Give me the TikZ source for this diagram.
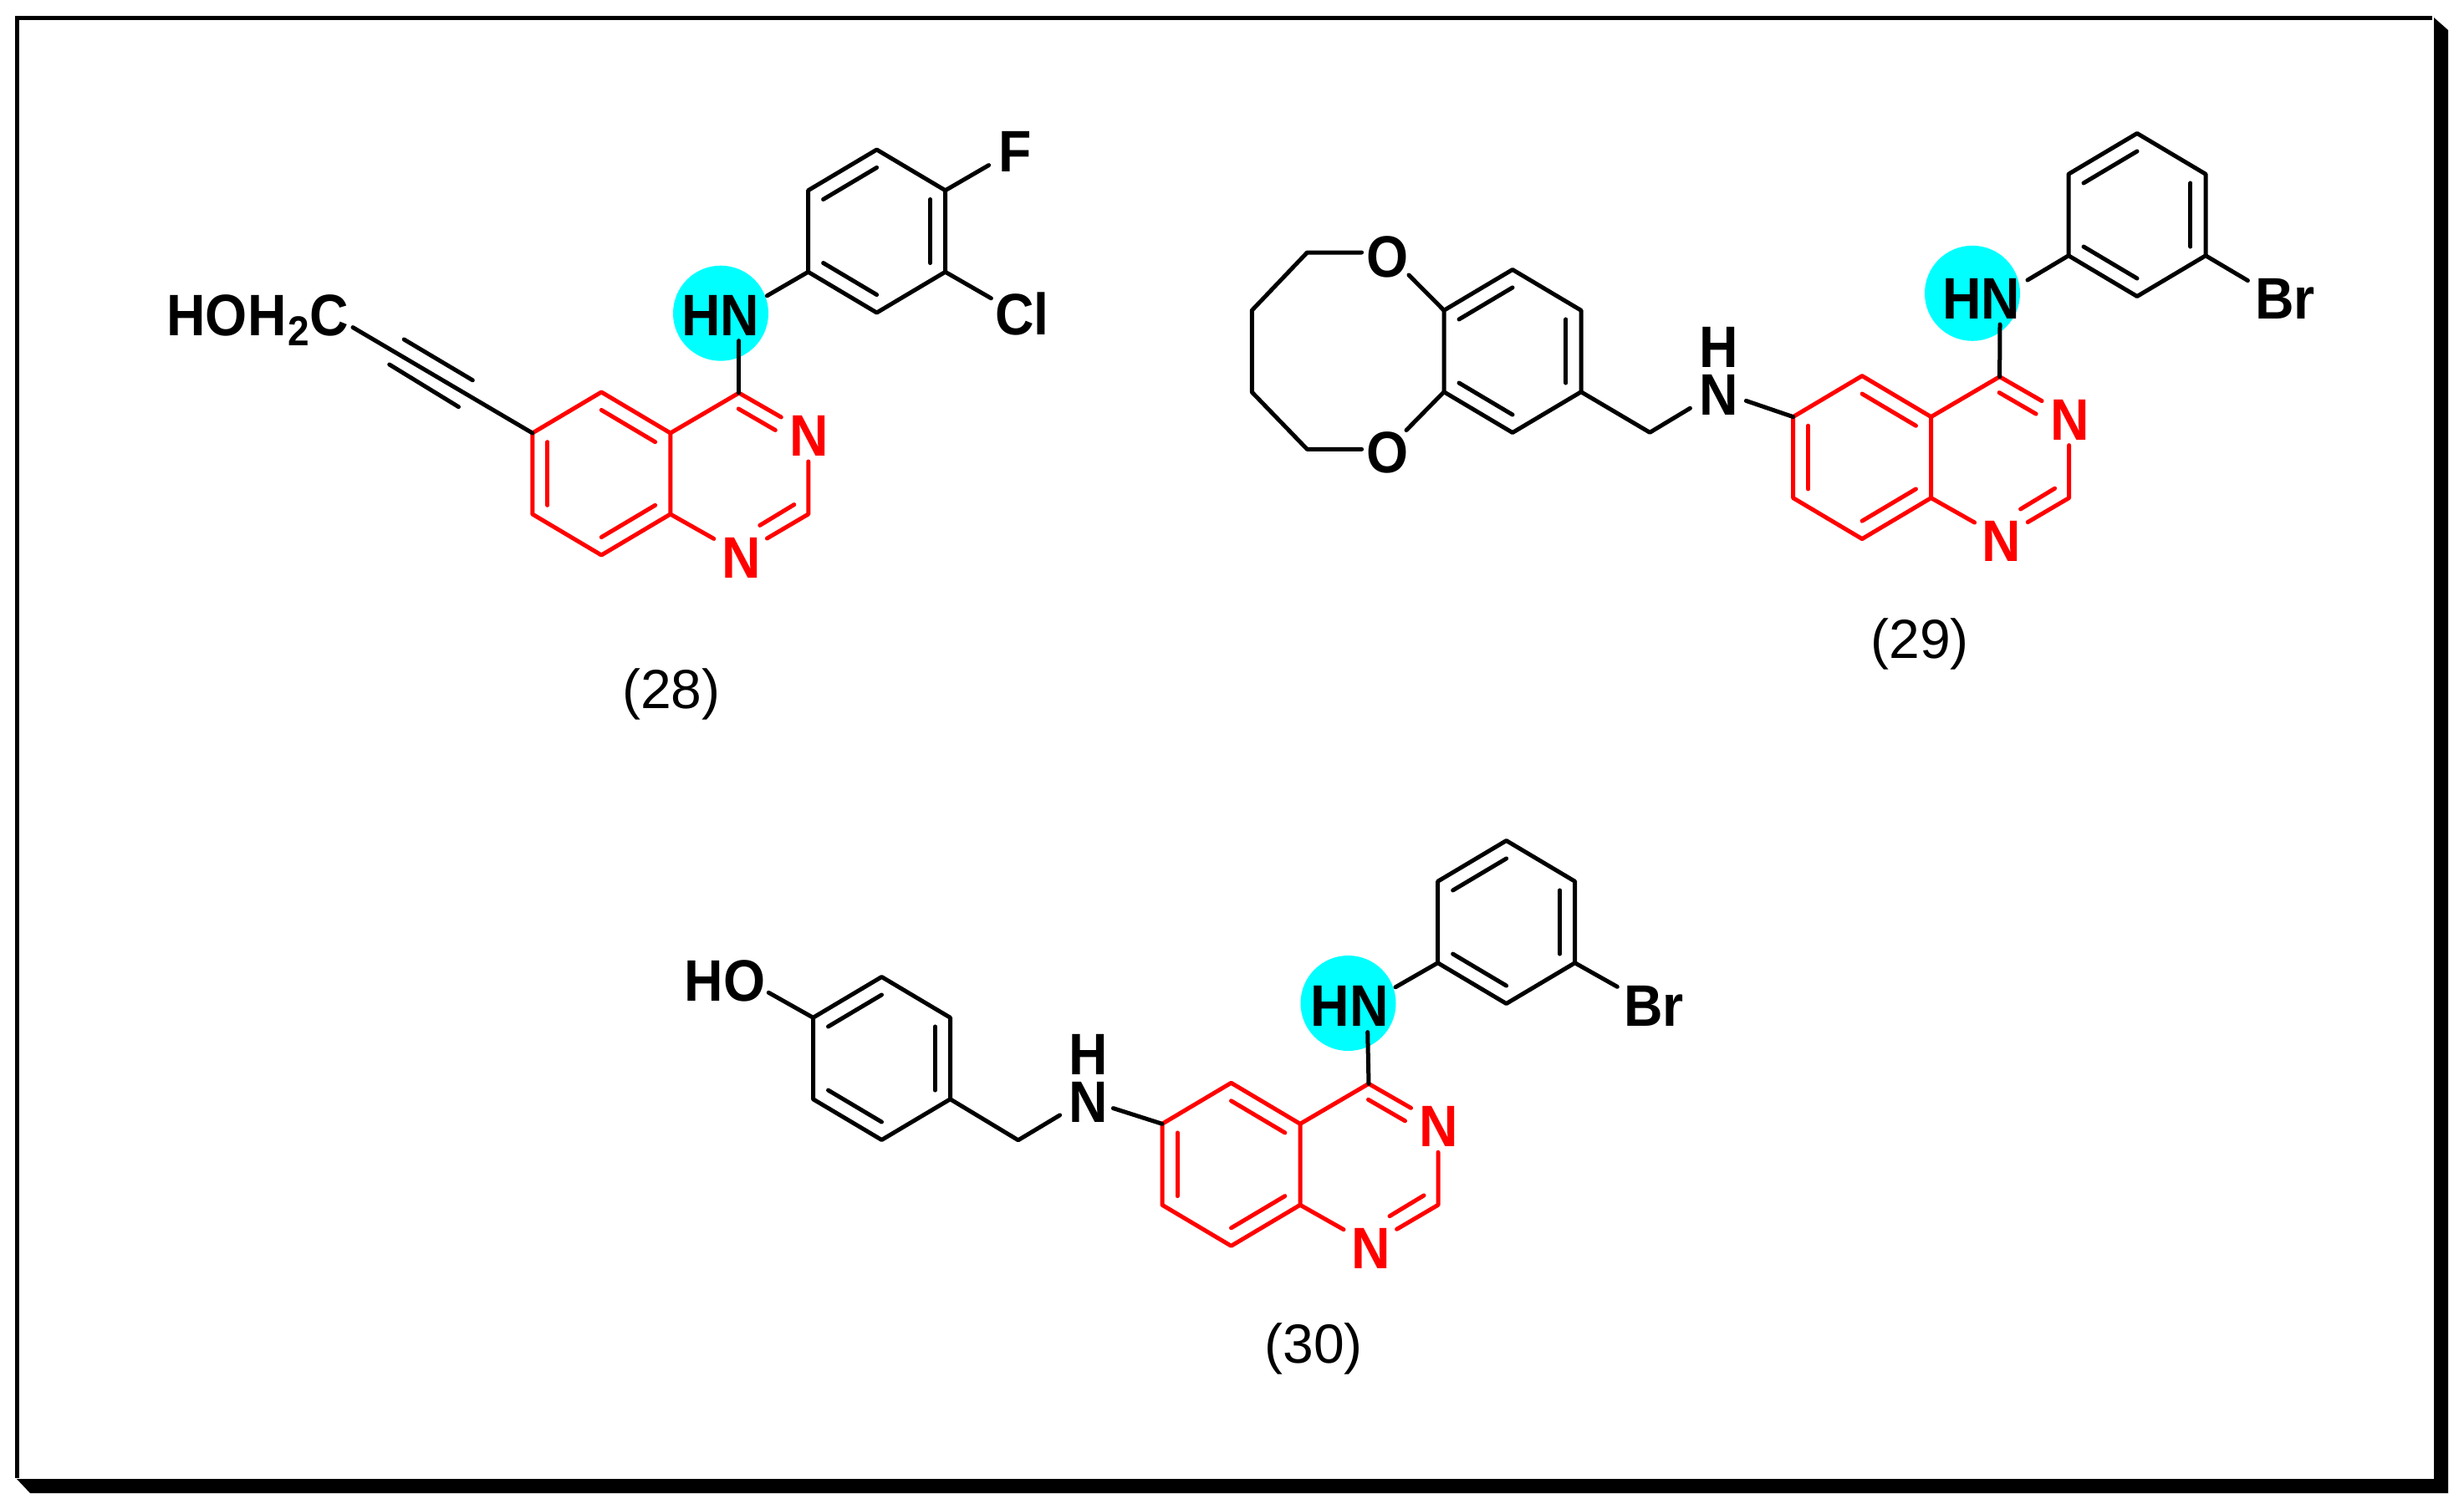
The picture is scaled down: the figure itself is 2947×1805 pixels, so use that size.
\documentclass[tikz,border=0pt]{standalone}
\usepackage{fontspec}
\setmainfont{Liberation Sans}
\newfontfamily\atomfont[FakeStretch=0.92]{Liberation Sans}
\usetikzlibrary{calc}
\definecolor{atomred}{RGB}{255,0,0}
\definecolor{hilite}{RGB}{0,255,255}
\tikzset{
  bondk/.style={draw=black,line width=2.5pt,line cap=round,line join=round},
  bondr/.style={draw=atomred,line width=2.5pt,line cap=round,line join=round},
  atom/.style={inner sep=0pt,outer sep=0pt,anchor=base,text height=25pt,text depth=0pt,font=\fontsize{35}{40}\atomfont\bfseries\selectfont},
  atomw/.style={atom,anchor=base west},
  numlabel/.style={inner sep=0pt,anchor=base,font=\fontsize{33}{38}\selectfont},
  spot/.style={fill=hilite,draw=none,circle,minimum size=57pt,inner sep=0pt},
}
% hexagon with the three alternating inner lines; vertices p1 (top) clockwise to p6
\newcommand{\hexring}[4]{%
  \begin{scope}[shift={(#2,#3)}]
    \coordinate (#1c) at (0,0);
    \coordinate (#11) at (0,-97.5);
    \coordinate (#12) at (82,-48.75);
    \coordinate (#13) at (82,48.75);
    \coordinate (#14) at (0,97.5);
    \coordinate (#15) at (-82,48.75);
    \coordinate (#16) at (-82,-48.75);
  \end{scope}
  \draw[#4] (#11) -- (#12) -- (#13) -- (#14) -- (#15) -- (#16) -- cycle;
  \draw[#4] ($(#16)!0.22!(#1c)$) -- ($(#11)!0.22!(#1c)$);
  \draw[#4] ($(#12)!0.22!(#1c)$) -- ($(#13)!0.22!(#1c)$);
  \draw[#4] ($(#14)!0.22!(#1c)$) -- ($(#15)!0.22!(#1c)$);
}
% quinazoline core, origin at C6
\newcommand{\quinazoline}[3]{%
  \begin{scope}[shift={(#2,#3)}]
    \coordinate (#1a) at (0,0);
    \coordinate (#1b) at (82.5,-49);
    \coordinate (#1c) at (165,0);
    \coordinate (#1d) at (165,97);
    \coordinate (#1e) at (82.5,146);
    \coordinate (#1f) at (0,97);
    \coordinate (#1cc) at (82.5,48.5);
    \coordinate (#1g) at (247,-48);
    \coordinate (#1h) at (330,97);
    \coordinate (#1n3e) at (297.5,-19);
    \coordinate (#1i1) at (246.5,-29);
    \coordinate (#1i2) at (290.5,-3.5);
    \coordinate (#1n3s) at (330,34);
    \coordinate (#1n1e) at (280.6,126);
    \coordinate (#1i3) at (313,85.6);
    \coordinate (#1i4) at (272,110.4);
    \coordinate (#1n1w) at (217,126.4);
    \node[atom,text=atomred] (#1N3) at (331,27.5) {N};
    \node[atom,text=atomred] (#1N1) at (249.5,173) {N};
  \end{scope}
  \draw[bondr] (#1a) -- (#1b) -- (#1c) -- (#1d) -- (#1e) -- (#1f) -- cycle;
  \draw[bondr] ($(#1a)!0.22!(#1cc)$) -- ($(#1f)!0.22!(#1cc)$);
  \draw[bondr] ($(#1b)!0.22!(#1cc)$) -- ($(#1c)!0.22!(#1cc)$);
  \draw[bondr] ($(#1d)!0.22!(#1cc)$) -- ($(#1e)!0.22!(#1cc)$);
  \draw[bondr] (#1c) -- (#1g) -- (#1n3e);
  \draw[bondr] (#1i1) -- (#1i2);
  \draw[bondr] (#1n3s) -- (#1h) -- (#1n1e);
  \draw[bondr] (#1i3) -- (#1i4);
  \draw[bondr] (#1d) -- (#1n1w);
}
\begin{document}
\begin{tikzpicture}[x=0.5pt,y=-0.5pt]
\useasboundingbox (0,0) rectangle (2947,1805);
% frame: thin top and left edges, heavy bevelled shadow on the right and bottom
\coordinate (fa) at (20.5,1768);
\coordinate (fb) at (20.5,21.5);
\coordinate (fc) at (2909,21.5);
\draw[black,line width=2.5pt] (fa) -- (fb) -- (fc);
\fill[black] (2911,21) -- (2928,36) -- (2928,1786) -- (36,1786) -- (20,1769) -- (2911,1769) -- cycle;

% ---------- compound 28
\node[spot] (s28) at (862,374.7) {};
\quinazoline{a}{636.8}{518}
\hexring{ar}{1048.6}{276.5}{bondk}
\node[atom] (hn28) at (862,401) {HN};
\node[atomw] (f28) at (1194,205) {F};
\node[atomw] (cl28) at (1190,400) {Cl};
\node[inner sep=0pt,anchor=base east,font=\fontsize{35}{40}\atomfont\bfseries\selectfont] (ho28) at (417,401) {HOH\kern1pt\raisebox{-6.2pt}{\fontsize{25}{28}\selectfont 2}C};
\node[numlabel] (n28) at (803,847) {(28)};
\coordinate (e1) at (883.8,407.6);
\coordinate (e2) at (917.4,353.8);
\coordinate (e3) at (1182.6,197.6);
\coordinate (e4) at (1185.4,356.8);
\coordinate (e5) at (422,391.6);
\coordinate (t1) at (483.2,406);
\coordinate (t2) at (565.3,454.8);
\coordinate (t3) at (465.7,436);
\coordinate (t4) at (548.5,486.7);
\draw[bondk] (ag) -- (e1);
\draw[bondk] (ar5) -- (e2);
\draw[bondk] (ar2) -- (e3);
\draw[bondk] (ar3) -- (e4);
\draw[bondk] (aa) -- (e5);
\draw[bondk] (t1) -- (t2);
\draw[bondk] (t3) -- (t4);

% ---------- compound 29
\node[spot] (s29) at (2359,350.8) {};
\quinazoline{b}{2144.6}{498.6}
\hexring{br}{2556}{257}{bondk}
\hexring{bz}{1809}{420}{bondk}
\node[atom] (hn29) at (2369.6,381) {HN};
\node[atomw] (br29) at (2697,381) {Br};
\node[atom] (h29) at (2055.4,439) {H};
\node[atom] (nh29) at (2055.4,496) {N};
\node[atom] (o29a) at (1660,331) {O};
\node[atom] (o29b) at (1660,565) {O};
\node[numlabel] (n29) at (2296,787) {(29)};
\coordinate (g1) at (2392,388);
\coordinate (g2) at (2425,335);
\coordinate (g3) at (2688.4,335.6);
\coordinate (g4) at (2088.4,479.4);
\coordinate (g5) at (1973.2,517.3);
\coordinate (g6) at (2021.4,488.3);
\coordinate (g7) at (1685,329);
\coordinate (g8) at (1682,514.6);
\coordinate (g9) at (1628.6,302);
\coordinate (g10) at (1563.4,302);
\coordinate (g11) at (1497.3,371.3);
\coordinate (g12) at (1497.3,469);
\coordinate (g13) at (1563.4,537.4);
\coordinate (g14) at (1628.6,537.4);
\draw[bondk] (bg) -- (g1);
\draw[bondk] (br5) -- (g2);
\draw[bondk] (br3) -- (g3);
\draw[bondk] (ba) -- (g4);
\draw[bondk] (bz3) -- (g5) -- (g6);
\draw[bondk] (bz6) -- (g7);
\draw[bondk] (bz5) -- (g8);
\draw[bondk] (g9) -- (g10) -- (g11) -- (g12) -- (g13) -- (g14);

% ---------- compound 30
\node[spot] (s30) at (1612.5,1200) {};
\quinazoline{c}{1390}{1344.3}
\hexring{cr}{1801.6}{1103}{bondk}
\hexring{ph}{1054.5}{1266}{bondk}
\node[atom] (hn30) at (1614,1227) {HN};
\node[atomw] (br30) at (1942,1227) {Br};
\node[atom] (h30) at (1301.6,1285.7) {H};
\node[atom] (nh30) at (1301.6,1342) {N};
\node[atom] (ho30) at (867,1197) {HO};
\node[numlabel] (n30) at (1571,1630) {(30)};
\coordinate (k1) at (1635.7,1234.6);
\coordinate (k2) at (1669,1180.8);
\coordinate (k3) at (1934.3,1180.3);
\coordinate (k4) at (1331.4,1325.6);
\coordinate (k5) at (1217.8,1363.8);
\coordinate (k6) at (1267.6,1333.9);
\coordinate (k7) at (919.3,1187.3);
\draw[bondk] (cg) -- (k1);
\draw[bondk] (cr5) -- (k2);
\draw[bondk] (cr3) -- (k3);
\draw[bondk] (ca) -- (k4);
\draw[bondk] (ph3) -- (k5) -- (k6);
\draw[bondk] (ph6) -- (k7);
\end{tikzpicture}
\end{document}
